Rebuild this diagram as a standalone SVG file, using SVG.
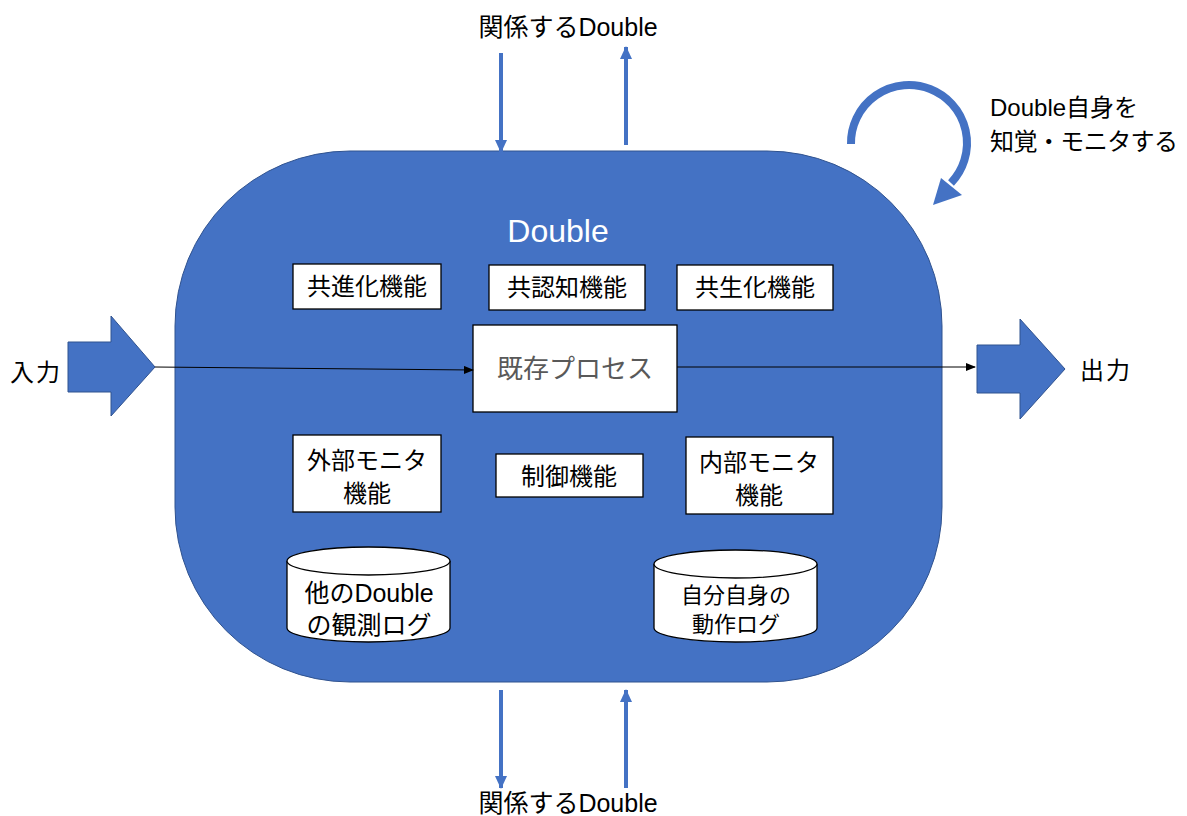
<svg xmlns="http://www.w3.org/2000/svg" width="1187" height="816" viewBox="0 0 1187 816">
<style>
text{font-family:"Liberation Sans","Noto Sans CJK JP",sans-serif;fill:#000}
.box{fill:#fff;stroke:#000;stroke-width:1.3}
.lbl{font-size:24px;text-anchor:middle}
.blue{fill:#4472C4;stroke:#2F528F;stroke-width:1}
.barr{stroke:#4472C4;stroke-width:4;fill:none}
</style>
<defs>
<marker id="ah" markerWidth="10" markerHeight="8" refX="9" refY="4" orient="auto" markerUnits="userSpaceOnUse"><path d="M0,0 L10,4 L0,8 z" fill="#000"/></marker>
<marker id="bh" markerWidth="14" markerHeight="12" refX="12" refY="6" orient="auto" markerUnits="userSpaceOnUse"><path d="M0,0 L13,6 L0,12 z" fill="#4472C4"/></marker>
</defs>
<g id="main"><rect x="175" y="151" width="767" height="531" rx="175" ry="175" class="blue"/>
<text x="558" y="242" font-size="32" text-anchor="middle" style="fill:#fff">Double</text></g>
<g id="in"><path d="M68,342 L111,342 L111,316 L155,367 L111,416 L111,392 L68,392 z" class="blue"/><text x="10" y="381" font-size="24" letter-spacing="2">入力</text></g>
<g id="out"><path d="M977,345 L1020,345 L1020,319 L1065,369 L1020,419 L1020,393 L977,393 z" class="blue"/><text x="1080" y="379" font-size="24" letter-spacing="2">出力</text></g>
<g id="n1"><rect x="293" y="264" width="148" height="45" class="box"/><text x="367" y="295" class="lbl">共進化機能</text></g>
<g id="n2"><rect x="489" y="265" width="156" height="45" class="box"/><text x="567" y="296" class="lbl">共認知機能</text></g>
<g id="n3"><rect x="677" y="265" width="156" height="45" class="box"/><text x="755" y="296" class="lbl">共生化機能</text></g>
<g id="n4"><rect x="473" y="325" width="204" height="87" class="box"/><text x="575" y="378" font-size="26" text-anchor="middle" style="fill:#595959">既存プロセス</text></g>
<g id="n5"><rect x="293" y="435" width="148" height="77" class="box"/><text x="367" y="469" class="lbl">外部モニタ</text><text x="367" y="502" class="lbl">機能</text></g>
<g id="n6"><rect x="496" y="454" width="147" height="43" class="box"/><text x="569" y="485" class="lbl">制御機能</text></g>
<g id="n7"><rect x="686" y="437" width="147" height="77" class="box"/><text x="759" y="471" class="lbl">内部モニタ</text><text x="759" y="504" class="lbl">機能</text></g>
<g id="db1"><path d="M287,561 L287,628 A81.5,14 0 0 0 450,628 L450,561" class="box"/><ellipse cx="368.5" cy="561" rx="81.5" ry="14" class="box"/><text x="369" y="602" font-size="25" text-anchor="middle">他のDouble</text><text x="369" y="634" font-size="25" text-anchor="middle">の観測ログ</text></g>
<g id="db2"><path d="M654,564 L654,628 A81.5,14 0 0 0 817,628 L817,564" class="box"/><ellipse cx="735.5" cy="564" rx="81.5" ry="14" class="box"/><text x="736" y="603" font-size="22" text-anchor="middle">自分自身の</text><text x="736" y="632" font-size="22" text-anchor="middle">動作ログ</text></g>
<g id="t1"><text x="568" y="36" font-size="25" text-anchor="middle">関係するDouble</text></g>
<g id="t2"><text x="568" y="812" font-size="25" text-anchor="middle">関係するDouble</text></g>
<g id="t3"><text x="990" y="116" font-size="24">Double自身を</text><text x="990" y="150" font-size="24" textLength="188" lengthAdjust="spacing">知覚・モニタする</text></g>
<g id="connectors">
<line x1="155" y1="367" x2="473" y2="370" stroke="#000" stroke-width="1" marker-end="url(#ah)"/>
<line x1="677" y1="367" x2="975" y2="367" stroke="#000" stroke-width="1" marker-end="url(#ah)"/>
<line x1="501" y1="53" x2="501" y2="152" class="barr" marker-end="url(#bh)"/>
<line x1="626" y1="145" x2="626" y2="47" class="barr" marker-end="url(#bh)"/>
<line x1="501" y1="690" x2="501" y2="788" class="barr" marker-end="url(#bh)"/>
<line x1="626" y1="788" x2="626" y2="690" class="barr" marker-end="url(#bh)"/>
<path d="M851,144 A58,58 0 1 1 951,183" fill="none" stroke="#4472C4" stroke-width="8"/>
<path d="M933,205 L941,178 L962,195 z" fill="#4472C4"/>
</g>
</svg>
